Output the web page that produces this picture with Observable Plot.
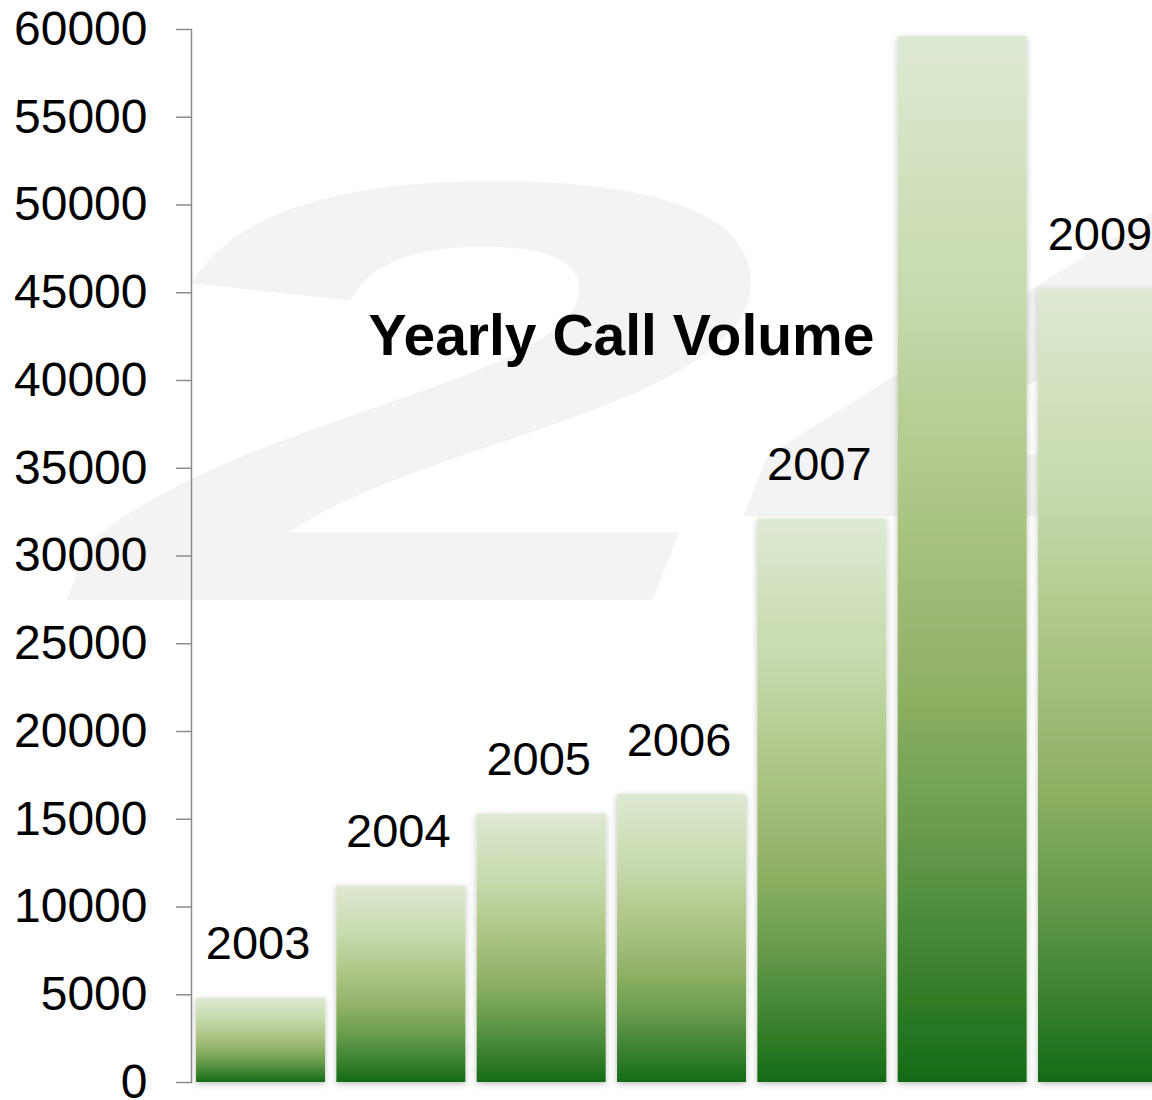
<!DOCTYPE html>
<html>
<head>
<meta charset="utf-8">
<script src="https://cdn.jsdelivr.net/npm/d3@7"></script>
<script src="https://cdn.jsdelivr.net/npm/@observablehq/plot@0.6"></script>
<style>
  html, body { margin: 0; padding: 0; background: #fff; overflow: hidden; }
  #chart svg { display: block; }
</style>
</head>
<body>
<div id="chart"></div>
<script>
const years = ["2003", "2004", "2005", "2006", "2007", "2008", "2009"];
const calls = [4800, 11200, 15300, 16400, 32100, 59600, 45200];
const yTicks = [0, 5000, 10000, 15000, 20000, 25000, 30000, 35000, 40000, 45000, 50000, 55000, 60000];
const chartTitle = "Yearly Call Volume";
const watermarkText = "24";

const data = years.map((year, i) => ({year, calls: calls[i]}));

const svg = Plot.plot({
  width: 1172,
  height: 1100,
  marginLeft: 191,
  marginRight: 0,
  marginTop: 29,
  marginBottom: 18,
  style: {fontFamily: "'Liberation Sans', Arial, Helvetica, sans-serif", color: "#000", background: "#fff", maxWidth: "none"},
  x: {domain: years, paddingInner: 0.081, paddingOuter: 0.036, round: false, axis: null},
  y: {domain: [0, 60000]},
  marks: [
    Plot.text([watermarkText], {
      frameAnchor: "top-left", textAnchor: "start", lineAnchor: "bottom",
      fontSize: 600, fontWeight: "bold", fontStyle: "italic", fill: "#f3f3f3"
    }),
    Plot.barY(data, {x: "year", y: "calls", fill: "url(#barGrad)"}),
    Plot.text(data, {x: "year", y: "calls", text: "year", lineAnchor: "bottom", dx: -3, dy: -39, fontSize: 47, fill: "#000"}),
    Plot.axisY({ticks: yTicks, tickSize: 15, tickPadding: 29, fontSize: 48, tickFormat: d => String(d), stroke: "#8c8c8c", strokeWidth: 1.5, fill: "#000", label: null}),
    Plot.frame({anchor: "left", stroke: "#8c8c8c", strokeWidth: 1.5}),
    Plot.text([chartTitle], {frameAnchor: "top-left", dx: 430, dy: 285, textAnchor: "middle", fontWeight: "bold", fontSize: 57, fill: "#000"})
  ]
});

svg.style.maxWidth = "none";
const sel = d3.select(svg);
sel.insert("defs", ":first-child").html(`
  <linearGradient id="barGrad" x1="0" y1="0" x2="0" y2="1">
    <stop offset="0" stop-color="#dee9d2"/>
    <stop offset="0.25" stop-color="#c7daad"/>
    <stop offset="0.48" stop-color="#a8c27e"/>
    <stop offset="0.63" stop-color="#8db064"/>
    <stop offset="0.76" stop-color="#689c4c"/>
    <stop offset="0.88" stop-color="#3f8431"/>
    <stop offset="1" stop-color="#156b16"/>
  </linearGradient>
  <filter id="barShadow" x="-10%" y="-5%" width="120%" height="115%">
    <feDropShadow dx="0" dy="2" stdDeviation="3" flood-color="#000" flood-opacity="0.25"/>
  </filter>
`);
sel.selectAll("rect").filter(function() { return this.getAttribute("fill") === "url(#barGrad)" || (this.parentNode && this.parentNode.getAttribute("fill") === "url(#barGrad)"); })
  .attr("filter", "url(#barShadow)");
sel.selectAll("text").filter(function() { return this.textContent === watermarkText; })
  .each(function() {
    d3.select(this.parentNode).attr("transform", "translate(86,600) scale(2.03,1) translate(-191,-29)");
  });

document.getElementById("chart").appendChild(svg);
</script>
</body>
</html>
